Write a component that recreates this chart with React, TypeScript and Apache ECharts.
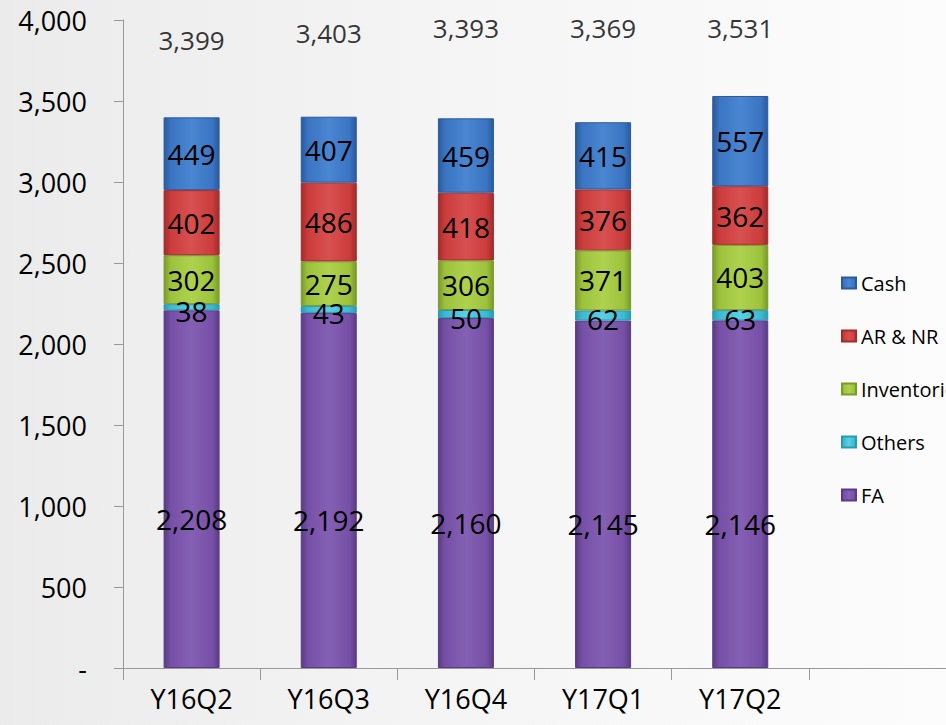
import React, { useEffect, useRef } from "react";
import * as echarts from "echarts";

const categories = ["Y16Q2", "Y16Q3", "Y16Q4", "Y17Q1", "Y17Q2", ""];
const fa = [2208, 2192, 2160, 2145, 2146];
const others = [38, 43, 50, 62, 63];
const inventories = [302, 275, 306, 371, 403];
const arnr = [402, 486, 418, 376, 362];
const cash = [449, 407, 459, 415, 557];
const totals = [3399, 3403, 3393, 3369, 3531];
const yTicks = [0, 500, 1000, 1500, 2000, 2500, 3000, 3500, 4000];

const TOTAL_LABEL_LEVEL = 3950;
const TOTAL_LABEL_DY = [12, 5, 0, 0, 0];

const FONT = "'Open Sans', 'Noto Sans', sans-serif";

function fmt(v: number) {
  return v.toLocaleString("en-US");
}

function barFill(dark: string, base: string, light: string) {
  return new echarts.graphic.LinearGradient(0, 0, 1, 0, [
    { offset: 0, color: dark },
    { offset: 0.12, color: base },
    { offset: 0.5, color: light },
    { offset: 0.88, color: base },
    { offset: 1, color: dark },
  ]);
}

export default function App() {
  const ref = useRef<HTMLDivElement>(null);
  useEffect(() => {
    document.body.style.margin = "0";
    const chart = echarts.init(ref.current!, null, { renderer: "svg" });
    const segLabel = (extra: any = {}) => ({
      show: true,
      position: "inside",
      color: "#000",
      fontSize: 28,
      fontFamily: FONT,
      formatter: (p: any) => fmt(p.value),
      ...extra,
    });
    const mk = (name: string, data: number[], dark: string, base: string, light: string, label: any) => ({
      name,
      type: "bar",
      stack: "total",
      barWidth: 56,
      data,
      itemStyle: { color: barFill(dark, base, light), borderColor: dark, borderWidth: 1 },
      label,
      emphasis: { disabled: true },
    });
    chart.setOption({
      animation: false,
      backgroundColor: new echarts.graphic.LinearGradient(0, 0, 1, 0, [
        { offset: 0, color: "#ebebeb" },
        { offset: 0.5, color: "#f5f5f5" },
        { offset: 1, color: "#fcfcfc" },
      ]),
      textStyle: { fontFamily: FONT },
      grid: { left: 123, right: -11, top: 20, bottom: 57, containLabel: false },
      legend: {
        orient: "vertical",
        left: 836,
        top: 268,
        itemWidth: 14,
        itemHeight: 11,
        itemGap: 33,
        icon: "rect",
        data: ["Cash", "AR & NR", "Inventories", "Others", "FA"],
        textStyle: { fontSize: 20, color: "#000", fontFamily: FONT },
      },
      xAxis: {
        type: "category",
        data: categories,
        axisLine: { show: true, lineStyle: { color: "#999" } },
        axisTick: { show: true, length: 12, lineStyle: { color: "#999" } },
        axisLabel: { fontSize: 27, color: "#000", margin: 17, fontFamily: FONT },
      },
      yAxis: {
        type: "value",
        min: yTicks[0],
        max: yTicks[yTicks.length - 1],
        interval: 500,
        axisLine: { show: true, lineStyle: { color: "#999" } },
        axisTick: { show: true, length: 9, lineStyle: { color: "#999" } },
        splitLine: { show: false },
        axisLabel: {
          fontSize: 27,
          color: "#000",
          margin: 36,
          fontFamily: FONT,
          formatter: (v: number) => (v === 0 ? "-" : fmt(v)),
        },
      },
      series: [
        mk("FA", fa, "#5a3c85", "#7650a6", "#8460b4", segLabel({ offset: [0, 30] })),
        mk("Others", others, "#2a9ab0", "#3cbad2", "#5ad0e4", segLabel({ offset: [0, 4] })),
        mk("Inventories", inventories, "#7a9a2a", "#9cc23c", "#aed24e", segLabel()),
        mk("AR & NR", arnr, "#a02c2c", "#cc3c3c", "#d85050", segLabel()),
        mk("Cash", cash, "#2a5a9c", "#3a74c2", "#4a86d2", segLabel()),
        {
          name: "total",
          type: "scatter",
          symbolSize: 0,
          silent: true,
          data: totals.map((t, i) => ({
            value: [i, TOTAL_LABEL_LEVEL],
            label: { offset: [0, TOTAL_LABEL_DY[i]] },
          })),
          label: {
            show: true,
            position: "inside",
            color: "#000",
            fontSize: 26,
            fontFamily: FONT,
            formatter: (p: any) => fmt(totals[p.dataIndex]),
          },
        },
      ],
    });
    return () => chart.dispose();
  }, []);
  return <div ref={ref} style={{ width: 946, height: 725 }} />;
}
